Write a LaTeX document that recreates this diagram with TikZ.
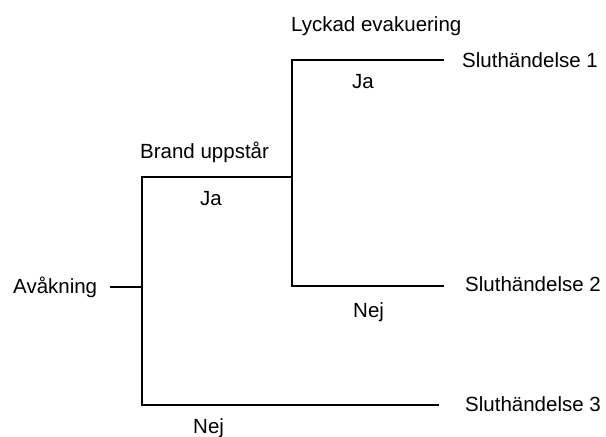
\documentclass[tikz,border=0pt]{standalone}
\usepackage{fontspec}
\setmainfont{Liberation Sans}
\begin{document}
\begin{tikzpicture}[x=1pt,y=-1pt,
  lbl/.style={anchor=base west,inner sep=0pt,font=\fontsize{20.5}{24}\selectfont},
  branch/.style={line width=1.7pt,line cap=rect}]
\useasboundingbox (0,0) rectangle (606,437);
% labels
\node[lbl] (av) at (13,293) {Avåkning};
\node[lbl] (brand) at (140,158) {Brand uppstår};
\node[lbl] (lyckad) at (291,31) {Lyckad evakuering};
\node[lbl] (ja1) at (352,88) {Ja};
\node[lbl] (ja2) at (200,205) {Ja};
\node[lbl] (nej1) at (353,317) {Nej};
\node[lbl] (nej2) at (193,433) {Nej};
\node[lbl] (s1) at (462,67) {Sluthändelse 1};
\node[lbl] (s2) at (465,291) {Sluthändelse 2};
\node[lbl] (s3) at (465,411) {Sluthändelse 3};
% junction points
\coordinate (a0) at (111,287);
\coordinate (a1) at (142,287);
\coordinate (a1t) at (142,177);
\coordinate (a1b) at (142,405);
\coordinate (b1) at (292,177);
\coordinate (b1t) at (292,60);
\coordinate (b1b) at (292,286);
\coordinate (e1) at (443,60);
\coordinate (e2) at (443,286);
\coordinate (e3) at (438,405);
% tree
\draw[branch] (a0) -- (a1);
\draw[branch] (e3) -- (a1b) -- (a1t) -- (b1);
\draw[branch] (e1) -- (b1t) -- (b1b) -- (e2);
\end{tikzpicture}
\end{document}
